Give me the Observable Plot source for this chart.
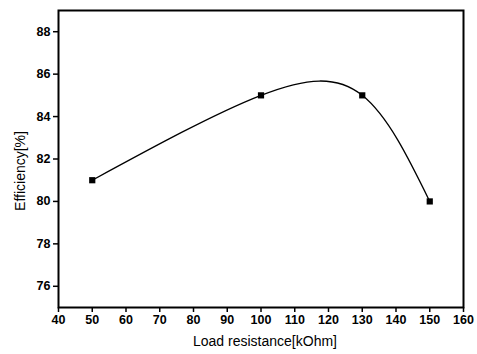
<!DOCTYPE html>
<html>
<head>
<meta charset="utf-8">
<script src="https://cdn.jsdelivr.net/npm/d3@7"></script>
<script src="https://cdn.jsdelivr.net/npm/@observablehq/plot@0.6"></script>
<style>
  html, body { margin: 0; padding: 0; background: #fff; }
</style>
</head>
<body>
<div id="chart"></div>
<script>
const loadResistance = [50, 100, 130, 150];
const efficiency = [81, 85, 85, 80];
const xTicks = [40, 50, 60, 70, 80, 90, 100, 110, 120, 130, 140, 150, 160];
const yTicks = [76, 78, 80, 82, 84, 86, 88];
const xLabel = "Load resistance[kOhm]";
const yLabel = "Efficiency[%]";

const data = loadResistance.map((x, i) => ({x, y: efficiency[i]}));

const chart = Plot.plot({
  width: 477,
  height: 354,
  marginLeft: 58,
  marginRight: 14,
  marginTop: 10,
  marginBottom: 47,
  style: {fontFamily: "Liberation Sans, Arial, sans-serif", fontSize: "12px", color: "#000", background: "#fff"},
  x: {domain: [40, 160]},
  y: {domain: [75, 89]},
  marks: [
    Plot.axisX({ticks: xTicks, tickSize: 5, tickPadding: 3, fontWeight: "bold", fontSize: 12.5, strokeWidth: 1.5, label: null}),
    Plot.axisY({ticks: yTicks, tickSize: 5, tickPadding: 3, fontWeight: "bold", fontSize: 12.5, strokeWidth: 1.5, label: null}),
    Plot.text([xLabel], {frameAnchor: "bottom", dy: 38, dx: 4, fontSize: 14, fill: "#000"}),
    Plot.text([yLabel], {frameAnchor: "left", textAnchor: "middle", lineAnchor: "middle", rotate: -90, dx: -38, dy: 12, fontSize: 14, fill: "#000"}),
    Plot.frame({stroke: "#000", strokeWidth: 2}),
    Plot.line(data, {x: "x", y: "y", curve: "natural", stroke: "#000", strokeWidth: 1.3}),
    Plot.dot(data, {x: "x", y: "y", symbol: "square", r: 3.5, fill: "#000", stroke: "none"})
  ]
});
document.getElementById("chart").appendChild(chart);
</script>
</body>
</html>
